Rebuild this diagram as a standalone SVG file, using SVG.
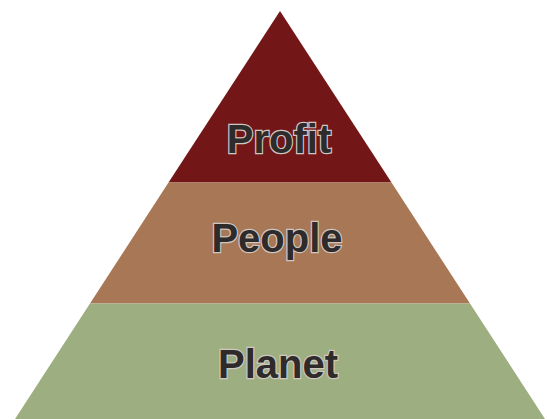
<svg xmlns="http://www.w3.org/2000/svg" width="548" height="419" viewBox="0 0 548 419">
<style>
.lbl{font-family:"Liberation Sans",Arial,sans-serif;font-weight:bold;font-size:40px;fill:#2f2b2b;stroke:#cfc8c2;stroke-width:2.4px;paint-order:stroke;text-anchor:middle}
</style>
<rect width="548" height="419" fill="#ffffff"/>
<g id="profit">
<polygon points="280,11 391.5,182.5 168.5,182.5" fill="#731618"/>
<text class="lbl" x="279" y="153">Profit</text>
</g>
<g id="people">
<polygon points="168.5,182.5 391.5,182.5 470,303.5 90,303.5" fill="#a77756"/>
<text class="lbl" x="277" y="252">People</text>
</g>
<g id="planet">
<polygon points="90,303.5 470,303.5 545,419 15,419" fill="#9dae80"/>
<text class="lbl" x="278" y="378">Planet</text>
</g>
<g id="connectors"/>
</svg>
